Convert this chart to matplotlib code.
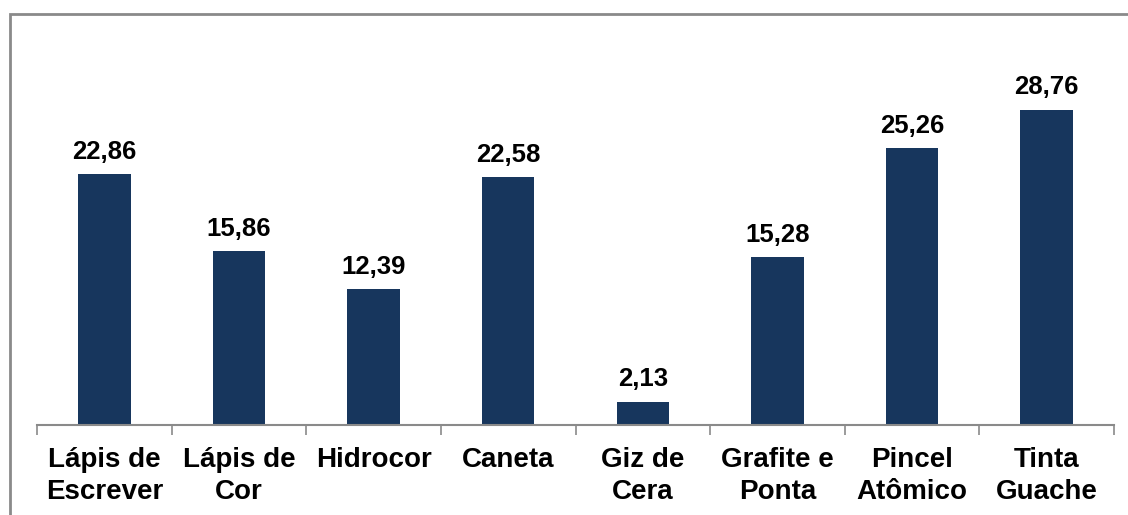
import matplotlib
matplotlib.use('Agg')
import matplotlib.pyplot as plt
from matplotlib.patches import Rectangle
import numpy as np

categorias = ['Lápis de\nEscrever', 'Lápis de\nCor', 'Hidrocor', 'Caneta',
              'Giz de\nCera', 'Grafite e\nPonta', 'Pincel\nAtômico', 'Tinta\nGuache']
valores = [22.86, 15.86, 12.39, 22.58, 2.13, 15.28, 25.26, 28.76]
rotulos = ['22,86', '15,86', '12,39', '22,58', '2,13', '15,28', '25,26', '28,76']

plt.rcParams['font.family'] = ['Liberation Sans', 'DejaVu Sans']

W, H = 1128, 515
fig = plt.figure(figsize=(W/100, H/100), dpi=100)

# moldura cinza (cortada a direita e embaixo)
fig.patches.append(Rectangle((10/W, -0.1), 1.2, 1 - 14/H + 0.1,
                             transform=fig.transFigure, fill=False,
                             edgecolor='#8a8a8a', linewidth=2))

ax = fig.add_axes([37/W, 90/H, (1114-37)/W, 351/H])
x = np.arange(len(valores))
ax.bar(x, valores, width=0.39, color='#17365D', zorder=2)

for xi, v, r in zip(x, valores, rotulos):
    ax.annotate(r, (xi, v), xytext=(0, 7.5), textcoords='offset points',
                ha='center', va='bottom', fontsize=18.5, fontweight='bold')

ax.set_xlim(-0.5, len(valores) - 0.5)
ax.set_ylim(0, 32)
ax.set_yticks([])
for s in ['top', 'right', 'left']:
    ax.spines[s].set_visible(False)
ax.spines['bottom'].set_color('#8a8a8a')
ax.spines['bottom'].set_linewidth(1.5)

ax.set_xticks(x)
ax.set_xticklabels(categorias, fontsize=20, fontweight='bold', linespacing=1.3)
ax.tick_params(axis='x', which='major', length=0, pad=15.5)
ax.set_xticks(np.arange(-0.5, len(valores)), minor=True)
ax.tick_params(axis='x', which='minor', length=7, width=1.2, color='#8a8a8a')

fig.savefig('out.png', dpi=100)
